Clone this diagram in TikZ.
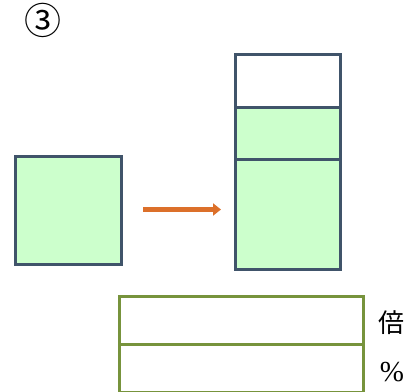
\documentclass[tikz,border=0pt]{standalone}
\usepackage{fontspec}
\setmainfont{Liberation Serif}
\newfontfamily\cjk{Noto Sans CJK JP}
\usetikzlibrary{arrows.meta}
\definecolor{cellgreen}{RGB}{204,255,204}
\definecolor{cellborder}{RGB}{64,84,106}
\definecolor{tableborder}{RGB}{119,147,60}
\definecolor{arroworange}{RGB}{220,112,42}
\begin{document}
\begin{tikzpicture}[x=1pt,y=-1pt,
  cell/.style={draw=cellborder,line width=3pt,fill=cellgreen,inner sep=0pt,anchor=north west},
  tcell/.style={draw=tableborder,line width=2.5pt,fill=white,inner sep=0pt,anchor=north west,minimum width=244pt,minimum height=48pt},
  lbl/.style={inner sep=0pt,font=\fontsize{24}{24}\selectfont}]
\useasboundingbox[fill=white] (0,0) rectangle (409,391);
\node[lbl,font=\cjk\fontsize{37}{37}\selectfont] (num) at (43,20) {③};
\node[cell,minimum width=106pt,minimum height=108pt] (src) at (14,155) {};
\node[cell,fill=white,minimum width=105pt,minimum height=53pt] (top) at (234,53) {};
\node[cell,minimum width=105pt,minimum height=52pt] (mid) at (234,106) {};
\node[cell,minimum width=105pt,minimum height=110pt] (bot) at (234,158) {};
\coordinate (a1) at (143,209.5);
\coordinate (a2) at (221,209.5);
\draw[arroworange,line width=5.5pt,-{Triangle[length=8pt,width=12pt]}] (a1) -- (a2);
\node[tcell] (r1) at (118,295) {};
\node[tcell] (r2) at (118,343) {};
\node[lbl,font=\cjk\fontsize{26}{26}\selectfont] (bai) at (391.5,322.5) {倍};
\node[lbl,font=\fontsize{29}{29}\selectfont] (pct) at (392,372.5) {\%};
\end{tikzpicture}
\end{document}
